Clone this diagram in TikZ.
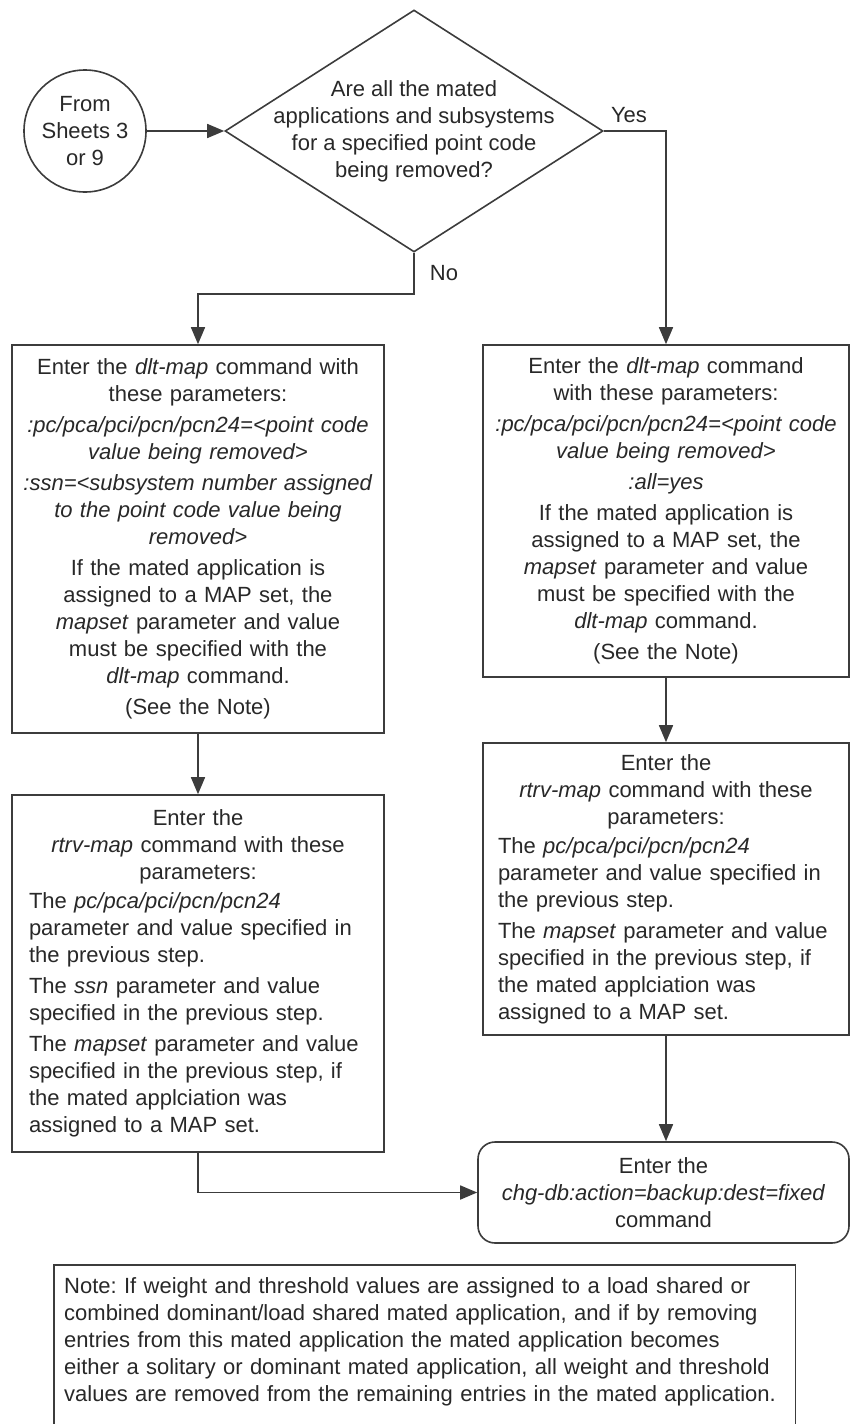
\documentclass[tikz,border=0pt]{standalone}
\usepackage{fontspec}
\setmainfont{Liberation Sans}
\usepackage{tikz}
\usetikzlibrary{shapes.geometric, arrows.meta, positioning, calc}
\definecolor{flowgray}{RGB}{60,60,60}
\definecolor{textgray}{RGB}{40,40,40}
\frenchspacing

\begin{document}
\begin{tikzpicture}[x=1pt, y=-1pt,
    every node/.style={font=\fontsize{22}{27}\selectfont, text=textgray},
    boxline/.style={draw=flowgray, line width=1.6pt},
    stepbox/.style={boxline, rectangle, inner ysep=0pt},
    flow/.style={boxline, -{Triangle[length=17pt, width=14pt]}}]
    \useasboundingbox (0,0) rectangle (851,1424);

    \node[boxline, circle, minimum size=122pt, inner sep=0pt, align=center] (from) at (85,131) {From\\Sheets 3\\or 9};
    \node[boxline, diamond, minimum width=378pt, minimum height=242pt, inner sep=0pt] (dec) at (414,131) {};
    \node[align=center] (dectext) at (dec.center) {Are all the mated\\applications and subsystems\\for a specified point code\\being removed?};
    \node (yeslbl) at (629,115) {Yes};
    \node (nolbl) at (444,273) {No};

    \node[stepbox, inner xsep=6pt, text width=360pt, minimum height=388pt, align=center] (dltpc) at (198,539) {
        Enter the \textit{dlt-map} command with\\
        these parameters:\\[4pt]
        \textit{:pc/pca/pci/pcn/pcn24=<point code}\\
        \textit{value being removed>}\\[4pt]
        \textit{:ssn=<subsystem number assigned}\\
        \textit{to the point code value being}\\
        \textit{removed>}\\[4pt]
        If the mated application is\\
        assigned to a MAP set, the\\
        \textit{mapset} parameter and value\\
        must be specified with the\\
        \textit{dlt-map} command.\\[4pt]
        (See the Note)};
    \node[stepbox, inner xsep=6pt, text width=354pt, minimum height=332pt, align=center] (dltall) at (666,511) {
        Enter the \textit{dlt-map} command\\
        with these parameters:\\[4pt]
        \textit{:pc/pca/pci/pcn/pcn24=<point code}\\
        \textit{value being removed>}\\[4pt]
        \textit{:all=yes}\\[4pt]
        If the mated application is\\
        assigned to a MAP set, the\\
        \textit{mapset} parameter and value\\
        must be specified with the\\
        \textit{dlt-map} command.\\[4pt]
        (See the Note)};

    \node[stepbox, inner xsep=17pt, text width=338pt, minimum height=357pt, align=left] (rtrvpc) at (198,973.5) {
        {\centering Enter the\\ \textit{rtrv-map} command with these\\ parameters:\par}\vspace{2pt}
        The \textit{pc/pca/pci/pcn/pcn24}\\
        parameter and value specified in\\
        the previous step.\par\vspace{4pt}
        The \textit{ssn} parameter and value\\
        specified in the previous step.\par\vspace{4pt}
        The \textit{mapset} parameter and value\\
        specified in the previous step, if\\
        the mated applciation was\\
        assigned to a MAP set.};
    \node[stepbox, inner xsep=15pt, text width=336pt, minimum height=292pt, align=left] (rtrvall) at (666,889) {
        {\centering Enter the\\ \textit{rtrv-map} command with these\\ parameters:\par}\vspace{2pt}
        The \textit{pc/pca/pci/pcn/pcn24}\\
        parameter and value specified in\\
        the previous step.\par\vspace{4pt}
        The \textit{mapset} parameter and value\\
        specified in the previous step, if\\
        the mated applciation was\\
        assigned to a MAP set.};

    \node[boxline, rectangle, rounded corners=17pt, minimum width=371pt, minimum height=101pt, inner sep=0pt, align=center] (chgdb) at (663.5,1192.5) {Enter the\\\textit{chg-db:action=backup:dest=fixed}\\command};

    \node[anchor=north west, text width=721pt, inner xsep=10pt, inner ysep=12pt, align=left] (note) at (54,1265) {
        Note: If weight and threshold values are assigned to a load shared or\\
        combined dominant/load shared mated application, and if by removing\\
        entries from this mated application the mated application becomes\\
        either a solitary or dominant mated application, all weight and threshold\\
        values are removed from the remaining entries in the mated application.};
    \draw[boxline] ($(note.north west)+(0,200)$) -- (note.north west) -- (note.north east) -- ++(0,200);

    \draw[flow] (from) -- (dec.west);
    \draw[flow] (dec.south) -- ++(0,41) -| (dltpc.north);
    \draw[flow] (dec.east) -| (dltall.north);
    \draw[flow] (dltpc.south) -- (dltpc.south |- rtrvpc.north);
    \draw[flow] (dltall.south) -- (dltall.south |- rtrvall.north);
    \draw[flow] (rtrvall.south) -- (rtrvall.south |- chgdb.north);
    \draw[flow] (rtrvpc.south) |- (chgdb.west);
\end{tikzpicture}
\end{document}
